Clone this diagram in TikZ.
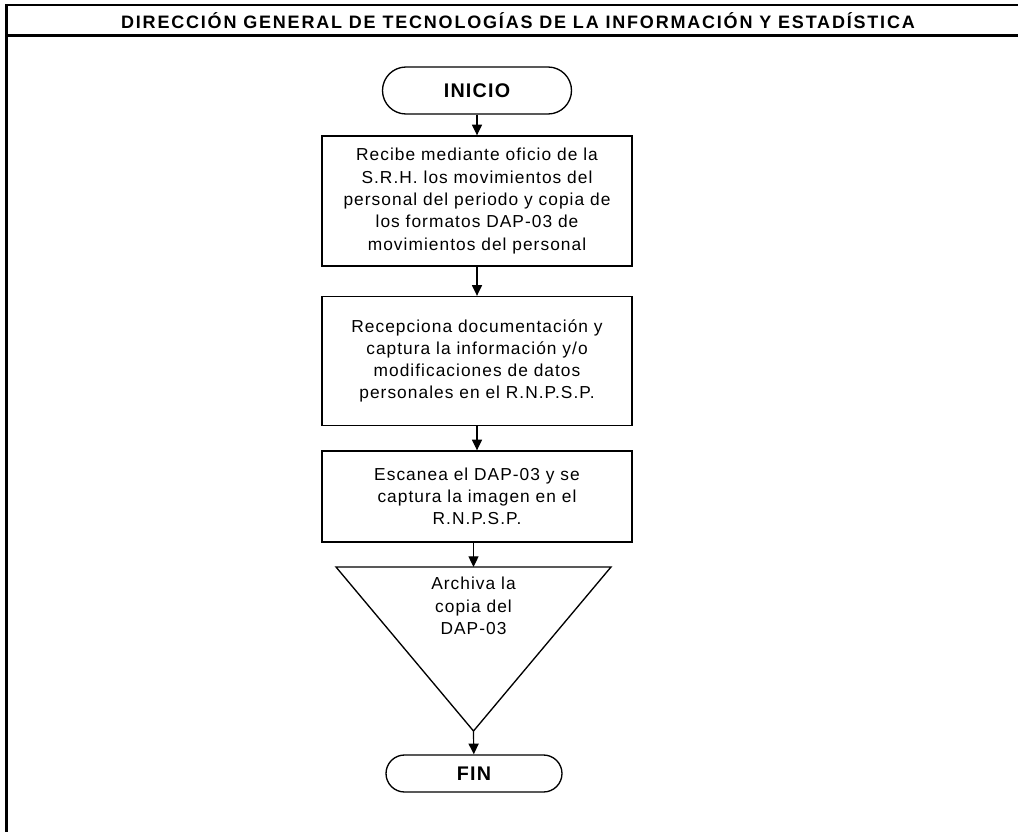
\documentclass[tikz,border=0pt]{standalone}
\usepackage{fontspec}
\setmainfont{Liberation Sans}
\newfontfamily\bodyfont[LetterSpace=6]{Liberation Sans}
\newfontfamily\titlefont[LetterSpace=10]{Liberation Sans}
\newfontfamily\termfont[LetterSpace=6]{Liberation Sans}
\usetikzlibrary{arrows.meta,calc}
\begin{document}
\begin{tikzpicture}[x=0.75pt,y=-0.75pt,
  frameline/.style={line width=2.2pt},
  proc/.style={draw,line width=1pt,minimum width=232.5pt,align=center,inner sep=0pt,
    font=\bodyfont\fontsize{13}{16.7}\selectfont},
  term/.style={draw,line width=1pt,align=center,inner sep=0pt,
    font=\termfont\bfseries\fontsize{14.8}{17}\selectfont},
  flow/.style={line width=0.9pt,-{Triangle[length=8pt,width=7.5pt]}}]
\useasboundingbox (0,0) rectangle (1018,832);
% frame
\coordinate (hl) at (6.5,5);
\coordinate (hr) at (1018,5);
\coordinate (bl) at (6.5,35.5);
\coordinate (br) at (1018,35.5);
\coordinate (fb) at (6.5,832);
\draw[frameline] (hr) -- (hl) -- (fb);
\draw[frameline] (bl) -- (br);
\node[anchor=base,font=\titlefont\bfseries\fontsize{13.5}{15}\selectfont] (title) at (518,28.3)
  {DIRECCIÓN GENERAL DE TECNOLOGÍAS DE LA INFORMACIÓN Y ESTADÍSTICA};
% nodes
\node[term,minimum width=141.75pt,minimum height=35.25pt,rounded corners=17.6pt] (inicio) at (477,90.5) {INICIO};
\node[proc,minimum height=97.5pt] (b1) at (477,201) {Recibe mediante oficio de la\\S.R.H. los movimientos del\\personal del periodo y copia de\\los formatos DAP-03 de\\movimientos del personal};
\node[proc,minimum height=96.75pt] (b2) at (477,361) {Recepciona documentación y\\captura la información y/o\\modificaciones de datos\\personales en el R.N.P.S.P.};
\node[proc,minimum height=68.25pt] (b3) at (477,496.5) {Escanea el DAP-03 y se\\captura la imagen en el\\R.N.P.S.P.};
\coordinate (tl) at (336,567);
\coordinate (tr) at (611,567);
\coordinate (ttop) at (473.5,567);
\coordinate (tbot) at (473.5,731);
\draw[line width=1pt,line join=miter] (tl) -- (tr) -- (tbot) -- cycle;
\node[align=center,anchor=north,inner sep=0pt,font=\bodyfont\fontsize{13}{16.7}\selectfont] (arch) at (473.5,577) {Archiva la\\copia del\\DAP-03};
\node[term,minimum width=132pt,minimum height=27.75pt,rounded corners=13.9pt] (fin) at (474,773.5) {FIN};
% connectors
\draw[flow] (inicio) -- (b1);
\draw[flow] (b1) -- (b2);
\draw[flow] (b2) -- (b3);
\draw[flow] (b3.south -| ttop) -- (ttop);
\draw[flow] (tbot) -- (fin);
\end{tikzpicture}
\end{document}
